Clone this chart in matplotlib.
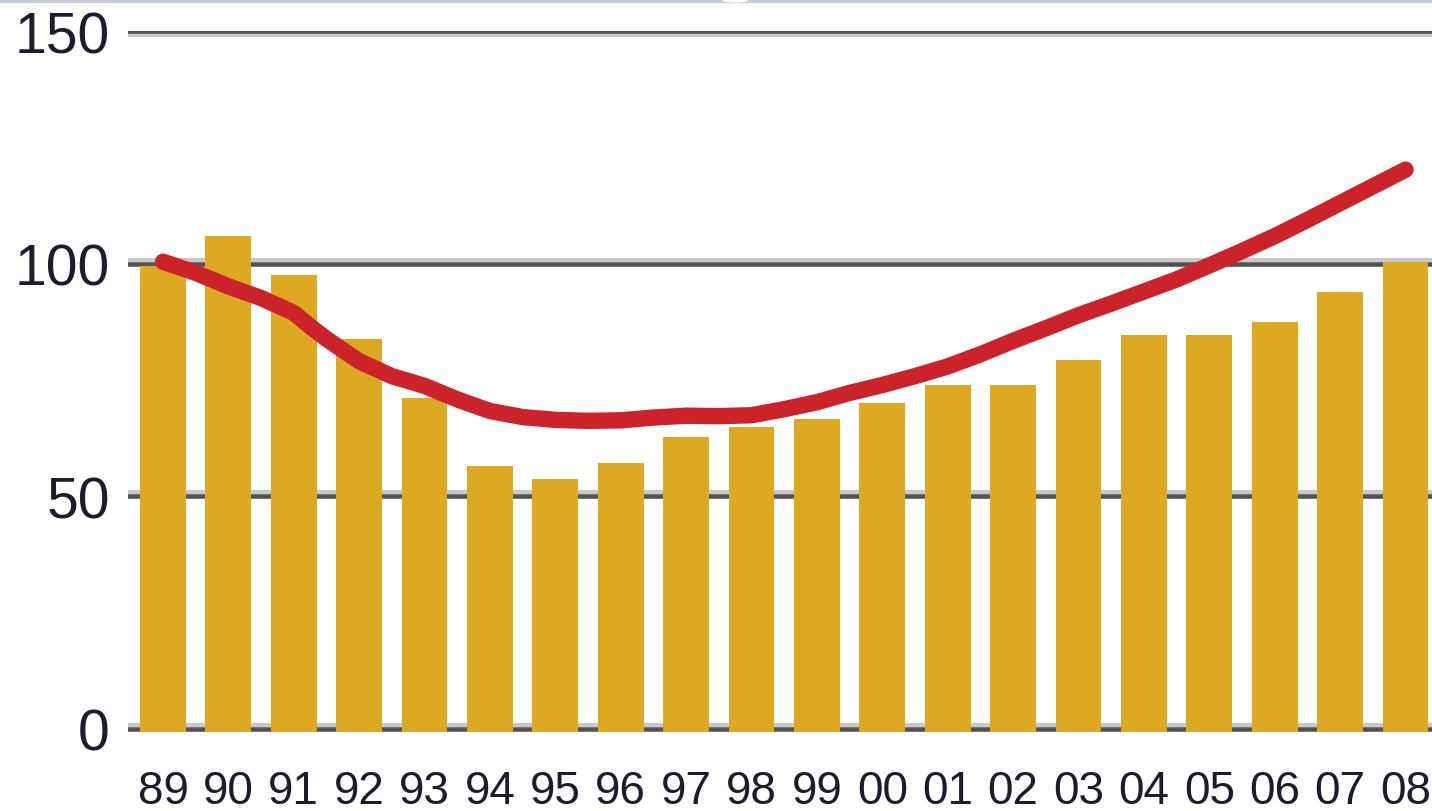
import matplotlib
matplotlib.use("Agg")
import matplotlib.pyplot as plt
from matplotlib.patches import Rectangle, Ellipse
import numpy as np

# ---- data ----
years = ["89", "90", "91", "92", "93", "94", "95", "96", "97", "98",
         "99", "00", "01", "02", "03", "04", "05", "06", "07", "08"]
bar_values = [100.2, 106.7, 98.3, 84.5, 71.7, 57.1, 54.3, 57.9, 63.5, 65.5,
              67.2, 70.8, 74.5, 74.5, 80.0, 85.4, 85.4, 88.2, 94.6, 101.1]
# trend line read at every half-year position (index units)
line_pos = [0, 0.5, 1, 1.5, 2, 2.25, 2.5, 3, 3.5, 4, 4.5, 5, 5.5, 6, 6.5, 7,
            7.5, 8, 8.5, 9, 9.5, 10, 10.5, 11, 11.5, 12, 12.5, 13, 13.5, 14,
            14.5, 15, 15.5, 16, 16.5, 17, 17.5, 18, 18.5, 19]
line_values = [100.4, 98.0, 95.1, 92.6, 89.4, 86.5, 83.8, 79.0, 75.8, 73.7,
               70.8, 68.3, 67.0, 66.4, 66.2, 66.3, 66.9, 67.3, 67.2, 67.4,
               68.7, 70.2, 72.2, 73.9, 75.8, 77.9, 80.5, 83.4, 86.1, 88.9,
               91.4, 94.0, 96.6, 99.6, 102.7, 105.9, 109.4, 113.0, 116.6, 120.2]
y_ticks = [0, 50, 100, 150]

# ---- style ----
BAR = "#DDA922"
RED = "#CC2229"
GRID_DARK = "#555253"
GRID_LIGHT = "#C8C8C8"
TXT = "#1c1c2c"

plt.rcParams["font.family"] = ["Liberation Sans", "DejaVu Sans"]

W, H = 1432, 812
fig = plt.figure(figsize=(W / 100, H / 100), dpi=100)
fig.patch.set_facecolor("white")

left_px, right_px, top_px, bottom_px = 128, 1432, 32, 733
ax = fig.add_axes([left_px / W, 1 - bottom_px / H,
                   (right_px - left_px) / W, (bottom_px - top_px) / H])
ax.set_facecolor("white")

x = np.arange(len(years))
ax.set_xlim(-0.535, 19.404)
ax.set_ylim(-0.7, 150)

# gridlines (two-tone)
for v in y_ticks:
    off = -0.85 if v == 150 else 0.85
    ax.axhline(v + off, color=GRID_LIGHT, lw=3.0, zorder=1)
    ax.axhline(v, color=GRID_DARK, lw=3.3, zorder=1.5)

ax.bar(x, bar_values, width=0.7, bottom=-0.7, color=BAR, zorder=2,
       linewidth=0)
ax.plot(line_pos, line_values, color=RED, lw=11.8, solid_capstyle="round",
        solid_joinstyle="round", zorder=3)

for s in ax.spines.values():
    s.set_visible(False)

ax.set_yticks(y_ticks)
ax.set_yticklabels([str(v) for v in y_ticks], fontsize=41, color=TXT)
ax.set_xticks(x)
ax.set_xticklabels(years, fontsize=33, color=TXT)
ax.tick_params(axis="y", length=0, pad=13)
ax.tick_params(axis="x", length=0, pad=27)

# thin band at the very top of the image
fig.patches.append(Rectangle((0, 1 - 3 / H), 1, 3 / H, transform=fig.transFigure,
                             color="#C5D0D8", zorder=0))
fig.patches.append(Ellipse((735 / W, 1.0), 26 / W, 6 / H, transform=fig.transFigure,
                           color="white", zorder=1))

fig.savefig("out.png", dpi=100, facecolor="white")
